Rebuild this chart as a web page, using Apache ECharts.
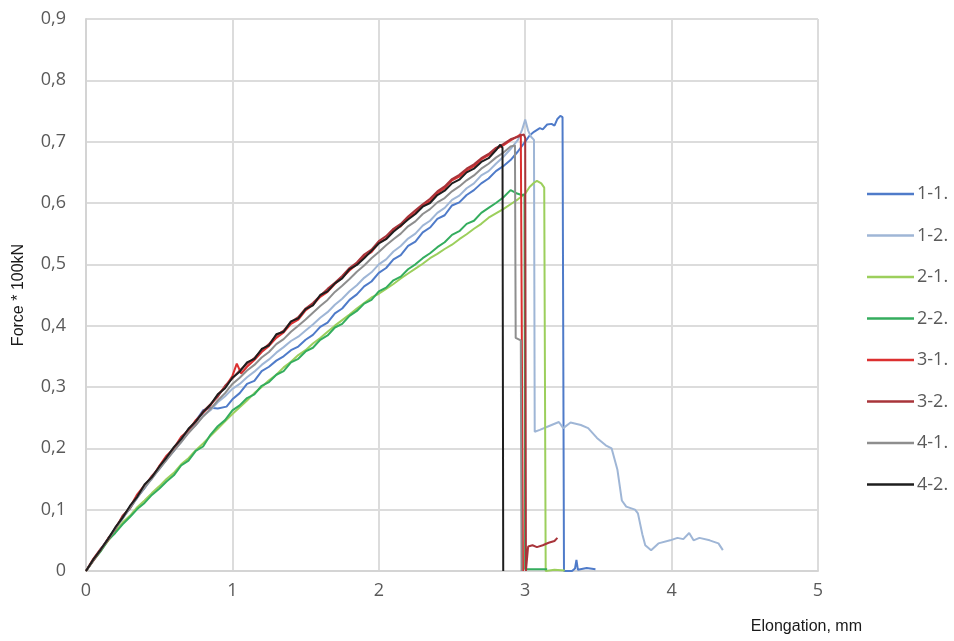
<!DOCTYPE html>
<html>
<head>
<meta charset="utf-8">
<script src="https://cdn.jsdelivr.net/npm/echarts@6/dist/echarts.min.js"></script>
<style>
  html, body { margin: 0; padding: 0; background: #fff; }
  #chart { width: 954px; height: 641px; }
</style>
</head>
<body>
<div id="chart"></div>
<script>
// Tensile test curves: elongation (mm) vs force (x 100 kN)
const seriesNames = ['1-1.', '1-2.', '2-1.', '2-2.', '3-1.', '3-2.', '4-1.', '4-2.'];
const seriesColors = ['#4f7bc9', '#9fb6d6', '#9ccf5c', '#34ad5e', '#dc3030', '#a8343a', '#8e8e8e', '#1e1e1e'];
const xTicks = [0, 1, 2, 3, 4, 5];
const yTicks = [0, 0.1, 0.2, 0.3, 0.4, 0.5, 0.6, 0.7, 0.8, 0.9];

const s1_1 = [[0,0],[0.05,0.018],[0.1,0.034],[0.15,0.052],[0.2,0.068],[0.25,0.086],[0.3,0.102],[0.35,0.12],[0.4,0.135],[0.45,0.152],[0.5,0.166],[0.55,0.182],[0.6,0.196],[0.65,0.212],[0.7,0.226],[0.75,0.245],[0.8,0.262],[0.85,0.266],[0.9,0.265],[0.96,0.268],[1.0,0.28],[1.05,0.29],[1.1,0.305],[1.15,0.31],[1.2,0.326],[1.25,0.333],[1.3,0.343],[1.35,0.35],[1.4,0.36],[1.45,0.366],[1.5,0.377],[1.55,0.385],[1.6,0.398],[1.65,0.405],[1.7,0.42],[1.75,0.428],[1.8,0.442],[1.85,0.451],[1.9,0.464],[1.95,0.472],[2.0,0.486],[2.05,0.494],[2.1,0.508],[2.15,0.515],[2.2,0.53],[2.25,0.537],[2.3,0.552],[2.35,0.56],[2.4,0.574],[2.45,0.58],[2.5,0.596],[2.55,0.601],[2.6,0.613],[2.65,0.621],[2.7,0.632],[2.75,0.64],[2.8,0.652],[2.85,0.66],[2.9,0.67],[2.95,0.684],[3.0,0.7],[3.03,0.71],[3.06,0.716],[3.1,0.722],[3.12,0.72],[3.15,0.728],[3.18,0.729],[3.2,0.726],[3.22,0.737],[3.24,0.742],[3.255,0.74],[3.265,0],[3.32,0],[3.34,0.004],[3.35,0.018],[3.36,0.002],[3.42,0.005],[3.48,0.003]];

const s1_2 = [[0,0],[0.05,0.019],[0.1,0.036],[0.15,0.051],[0.2,0.07],[0.25,0.085],[0.3,0.104],[0.35,0.119],[0.4,0.137],[0.45,0.15],[0.5,0.168],[0.55,0.181],[0.6,0.197],[0.65,0.21],[0.7,0.226],[0.75,0.238],[0.8,0.253],[0.85,0.262],[0.9,0.275],[0.95,0.285],[1.0,0.297],[1.05,0.305],[1.1,0.316],[1.15,0.325],[1.2,0.336],[1.25,0.345],[1.3,0.356],[1.35,0.365],[1.4,0.375],[1.45,0.382],[1.5,0.392],[1.55,0.402],[1.6,0.413],[1.65,0.422],[1.7,0.434],[1.75,0.444],[1.8,0.456],[1.85,0.466],[1.9,0.478],[1.95,0.487],[2.0,0.5],[2.05,0.508],[2.1,0.521],[2.15,0.53],[2.2,0.542],[2.25,0.55],[2.3,0.563],[2.35,0.571],[2.4,0.584],[2.45,0.592],[2.5,0.605],[2.55,0.612],[2.6,0.624],[2.65,0.632],[2.7,0.645],[2.75,0.652],[2.8,0.664],[2.85,0.675],[2.9,0.688],[2.95,0.703],[2.98,0.72],[3.0,0.736],[3.02,0.718],[3.04,0.708],[3.06,0.703],[3.065,0.227],[3.1,0.23],[3.18,0.238],[3.23,0.243],[3.26,0.233],[3.31,0.242],[3.38,0.238],[3.43,0.233],[3.49,0.217],[3.55,0.205],[3.59,0.2],[3.63,0.165],[3.66,0.115],[3.69,0.105],[3.75,0.1],[3.77,0.094],[3.8,0.06],[3.82,0.042],[3.86,0.034],[3.91,0.045],[3.99,0.05],[4.04,0.054],[4.08,0.052],[4.12,0.062],[4.15,0.05],[4.19,0.054],[4.26,0.05],[4.32,0.045],[4.35,0.034]];

const s2_1 = [[0,0],[0.05,0.018],[0.1,0.033],[0.15,0.049],[0.2,0.064],[0.25,0.079],[0.3,0.09],[0.35,0.104],[0.4,0.115],[0.45,0.127],[0.5,0.138],[0.55,0.15],[0.6,0.16],[0.65,0.174],[0.7,0.184],[0.75,0.197],[0.8,0.208],[0.85,0.22],[0.9,0.232],[0.95,0.244],[1.0,0.256],[1.05,0.267],[1.1,0.278],[1.15,0.29],[1.2,0.3],[1.25,0.311],[1.3,0.32],[1.35,0.332],[1.4,0.341],[1.45,0.352],[1.5,0.36],[1.55,0.371],[1.6,0.38],[1.65,0.39],[1.7,0.4],[1.75,0.409],[1.8,0.418],[1.85,0.428],[1.9,0.437],[1.95,0.446],[2.0,0.452],[2.05,0.46],[2.1,0.468],[2.15,0.477],[2.2,0.485],[2.25,0.493],[2.3,0.501],[2.35,0.51],[2.4,0.517],[2.45,0.525],[2.5,0.532],[2.55,0.541],[2.6,0.549],[2.65,0.558],[2.7,0.566],[2.75,0.576],[2.8,0.583],[2.85,0.59],[2.9,0.598],[2.95,0.606],[3.0,0.615],[3.03,0.626],[3.06,0.633],[3.08,0.636],[3.11,0.632],[3.13,0.625],[3.14,0],[3.2,0.002],[3.27,0.001]];

const s2_2 = [[0,0],[0.05,0.017],[0.1,0.032],[0.15,0.05],[0.2,0.062],[0.25,0.076],[0.3,0.088],[0.35,0.101],[0.4,0.111],[0.45,0.124],[0.5,0.134],[0.55,0.146],[0.6,0.156],[0.65,0.172],[0.7,0.18],[0.75,0.196],[0.8,0.203],[0.85,0.222],[0.9,0.236],[0.95,0.246],[1.0,0.262],[1.05,0.27],[1.1,0.282],[1.15,0.288],[1.2,0.302],[1.25,0.308],[1.3,0.32],[1.35,0.326],[1.4,0.34],[1.45,0.346],[1.5,0.358],[1.55,0.364],[1.6,0.377],[1.65,0.384],[1.7,0.397],[1.75,0.403],[1.8,0.416],[1.85,0.424],[1.9,0.436],[1.95,0.442],[2.0,0.456],[2.05,0.462],[2.1,0.474],[2.15,0.48],[2.2,0.492],[2.25,0.5],[2.3,0.51],[2.35,0.518],[2.4,0.528],[2.45,0.536],[2.5,0.548],[2.55,0.554],[2.6,0.566],[2.65,0.571],[2.7,0.584],[2.75,0.592],[2.8,0.6],[2.85,0.609],[2.9,0.621],[2.94,0.616],[2.975,0.613],[2.995,0.614],[3.0,0.003],[3.15,0.003]];

const s3_1 = [[0,0],[0.05,0.02],[0.1,0.036],[0.15,0.05],[0.2,0.07],[0.25,0.088],[0.3,0.104],[0.35,0.125],[0.4,0.14],[0.45,0.152],[0.5,0.171],[0.55,0.188],[0.6,0.2],[0.65,0.219],[0.7,0.229],[0.75,0.246],[0.8,0.258],[0.85,0.27],[0.9,0.287],[0.95,0.3],[1.0,0.318],[1.03,0.338],[1.06,0.322],[1.1,0.333],[1.15,0.344],[1.2,0.357],[1.25,0.367],[1.3,0.38],[1.35,0.389],[1.4,0.403],[1.45,0.41],[1.5,0.425],[1.55,0.434],[1.6,0.447],[1.65,0.455],[1.7,0.468],[1.75,0.478],[1.8,0.49],[1.85,0.5],[1.9,0.513],[1.95,0.52],[2.0,0.535],[2.05,0.542],[2.1,0.556],[2.15,0.562],[2.2,0.575],[2.25,0.584],[2.3,0.596],[2.35,0.603],[2.4,0.616],[2.45,0.624],[2.5,0.637],[2.55,0.643],[2.6,0.653],[2.65,0.66],[2.7,0.671],[2.75,0.678],[2.8,0.688],[2.85,0.694],[2.9,0.702],[2.95,0.709],[2.97,0.712],[2.98,0.71],[2.985,0]];

const s3_2 = [[0,0],[0.05,0.017],[0.1,0.034],[0.15,0.053],[0.2,0.068],[0.25,0.09],[0.3,0.102],[0.35,0.122],[0.4,0.138],[0.45,0.155],[0.5,0.168],[0.55,0.186],[0.6,0.198],[0.65,0.216],[0.7,0.231],[0.75,0.243],[0.8,0.26],[0.85,0.272],[0.9,0.284],[0.95,0.302],[1.0,0.314],[1.05,0.327],[1.1,0.338],[1.15,0.347],[1.2,0.36],[1.25,0.37],[1.3,0.384],[1.35,0.392],[1.4,0.406],[1.45,0.414],[1.5,0.428],[1.55,0.437],[1.6,0.449],[1.65,0.46],[1.7,0.47],[1.75,0.481],[1.8,0.494],[1.85,0.503],[1.9,0.516],[1.95,0.524],[2.0,0.538],[2.05,0.546],[2.1,0.558],[2.15,0.566],[2.2,0.578],[2.25,0.588],[2.3,0.598],[2.35,0.607],[2.4,0.619],[2.45,0.627],[2.5,0.639],[2.55,0.646],[2.6,0.656],[2.65,0.663],[2.7,0.673],[2.75,0.68],[2.8,0.69],[2.85,0.696],[2.9,0.704],[2.95,0.708],[2.99,0.712],[3.0,0.706],[3.005,0],[3.02,0.04],[3.05,0.042],[3.08,0.039],[3.12,0.042],[3.16,0.046],[3.2,0.049],[3.22,0.054]];

const s4_1 = [[0,0],[0.05,0.018],[0.1,0.035],[0.15,0.051],[0.2,0.069],[0.25,0.086],[0.3,0.103],[0.35,0.12],[0.4,0.136],[0.45,0.151],[0.5,0.166],[0.55,0.181],[0.6,0.196],[0.65,0.21],[0.7,0.225],[0.75,0.238],[0.8,0.252],[0.85,0.264],[0.9,0.278],[0.95,0.29],[1.0,0.305],[1.05,0.315],[1.1,0.327],[1.15,0.336],[1.2,0.348],[1.25,0.357],[1.3,0.37],[1.35,0.378],[1.4,0.39],[1.45,0.4],[1.5,0.41],[1.55,0.421],[1.6,0.432],[1.65,0.442],[1.7,0.455],[1.75,0.465],[1.8,0.476],[1.85,0.488],[1.9,0.498],[1.95,0.51],[2.0,0.52],[2.05,0.531],[2.1,0.541],[2.15,0.55],[2.2,0.562],[2.25,0.57],[2.3,0.582],[2.35,0.59],[2.4,0.601],[2.45,0.608],[2.5,0.619],[2.55,0.627],[2.6,0.637],[2.65,0.645],[2.7,0.656],[2.75,0.664],[2.8,0.674],[2.85,0.682],[2.9,0.692],[2.93,0.694],[2.935,0.38],[2.97,0.376],[2.975,0]];

const s4_2 = [[0,0],[0.05,0.019],[0.1,0.035],[0.15,0.052],[0.2,0.071],[0.25,0.087],[0.3,0.106],[0.35,0.121],[0.4,0.141],[0.45,0.153],[0.5,0.17],[0.55,0.185],[0.6,0.202],[0.65,0.215],[0.7,0.232],[0.75,0.244],[0.8,0.259],[0.85,0.271],[0.9,0.288],[0.95,0.298],[1.0,0.315],[1.05,0.325],[1.1,0.34],[1.15,0.346],[1.2,0.362],[1.25,0.368],[1.3,0.386],[1.35,0.39],[1.4,0.407],[1.45,0.412],[1.5,0.427],[1.55,0.433],[1.6,0.45],[1.65,0.456],[1.7,0.469],[1.75,0.477],[1.8,0.492],[1.85,0.499],[1.9,0.51],[1.95,0.522],[2.0,0.534],[2.05,0.541],[2.1,0.553],[2.15,0.563],[2.2,0.573],[2.25,0.582],[2.3,0.594],[2.35,0.6],[2.4,0.613],[2.45,0.62],[2.5,0.632],[2.55,0.638],[2.6,0.65],[2.65,0.656],[2.7,0.667],[2.75,0.673],[2.8,0.686],[2.83,0.695],[2.845,0.69],[2.85,0]];

const seriesData = [s1_1, s1_2, s2_1, s2_2, s3_1, s3_2, s4_1, s4_2];

const tickFont = '"Open Sans", "Noto Sans", sans-serif';
const nameFont = '"Liberation Sans", Arial, sans-serif';

const chart = echarts.init(document.getElementById('chart'), null, { renderer: 'canvas' });
chart.setOption({
  animation: false,
  backgroundColor: '#ffffff',
  grid: { left: 86, top: 19, right: 136, bottom: 70, containLabel: false },
  xAxis: {
    type: 'value',
    min: xTicks[0],
    max: xTicks[xTicks.length - 1],
    interval: 1,
    name: 'Elongation, mm',
    nameLocation: 'end',
    nameGap: 44,
    nameTextStyle: { fontFamily: nameFont, fontSize: 16, color: '#1a1a1a', align: 'right', verticalAlign: 'top', padding: [48, 0, 0, 0] },
    axisLine: { show: true, lineStyle: { color: '#d4d4d4', width: 2 } },
    axisTick: { show: false },
    axisLabel: { fontFamily: tickFont, fontSize: 18, color: '#5a5a5a', margin: 11, formatter: v => String(v) },
    splitLine: { show: true, lineStyle: { color: '#dcdcdc', width: 2 } }
  },
  yAxis: {
    type: 'value',
    min: yTicks[0],
    max: yTicks[yTicks.length - 1],
    interval: 0.1,
    name: 'Force * 100kN',
    nameLocation: 'middle',
    nameGap: 59,
    nameRotate: 90,
    nameTextStyle: { fontFamily: nameFont, fontSize: 16, color: '#1a1a1a' },
    axisLine: { show: true, lineStyle: { color: '#d4d4d4', width: 2 } },
    axisTick: { show: false },
    axisLabel: {
      fontFamily: tickFont, fontSize: 18, color: '#5a5a5a', margin: 20,
      formatter: v => (Math.abs(v) < 1e-9 ? '0' : v.toFixed(1).replace('.', ','))
    },
    splitLine: { show: true, lineStyle: { color: '#dcdcdc', width: 2 } }
  },
  legend: {
    orient: 'vertical',
    left: 862,
    top: 180,
    itemWidth: 47,
    itemHeight: 2.5,
    itemGap: 23.5,
    icon: 'rect',
    textStyle: { fontFamily: tickFont, fontSize: 18, color: '#5a5a5a', lineHeight: 18, padding: [0, 0, 0, -2] },
    data: seriesNames
  },
  series: seriesNames.map((name, i) => ({
    name: name,
    type: 'line',
    data: seriesData[i],
    showSymbol: false,
    symbol: 'none',
    smooth: false,
    color: seriesColors[i],
    lineStyle: { width: 2, color: seriesColors[i] },
    emphasis: { disabled: true }
  }))
});
</script>
</body>
</html>
